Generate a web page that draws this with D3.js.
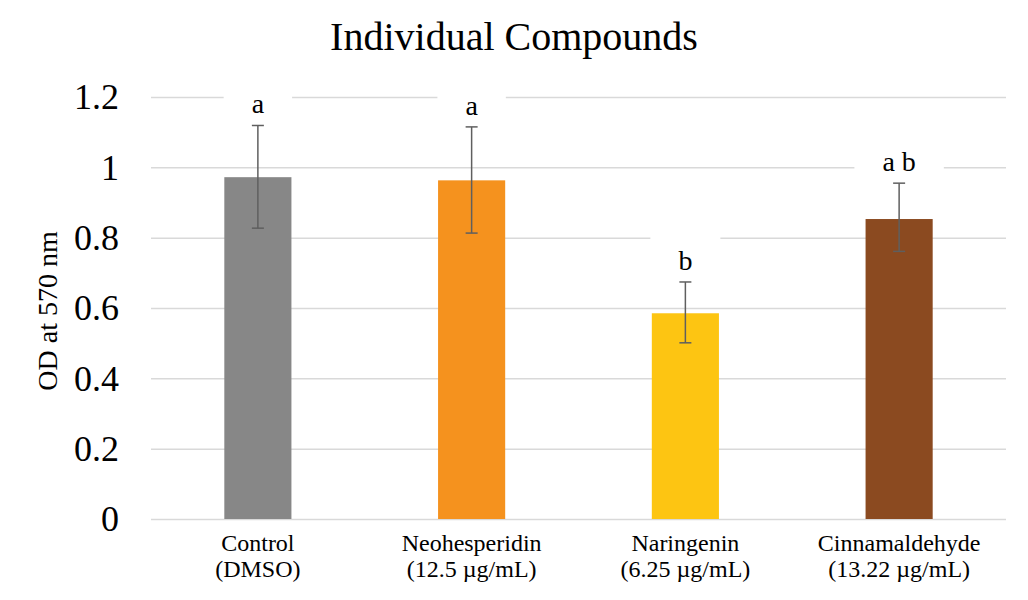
<html>
<head>
<meta charset="utf-8">
<style>
  body { margin: 0; background: #fff; }
  text { font-family: "Liberation Serif", "Times New Roman", serif; fill: #000; }
</style>
</head>
<body>
<svg width="1028" height="600" class="chart"></svg>
<script src="https://cdn.jsdelivr.net/npm/d3@7"></script>
<script>
    // data
    categories = ["Control", "Neohesperidin", "Naringenin", "Cinnamaldehyde"]
    doses = ["(DMSO)", "(12.5 \u00b5g/mL)", "(6.25 \u00b5g/mL)", "(13.22 \u00b5g/mL)"]
    means = [0.972, 0.963, 0.585, 0.853]
    errHigh = [1.119, 1.115, 0.674, 0.955]
    errLow = [0.827, 0.813, 0.501, 0.761]
    letters = ["a", "a", "b", "a b"]
    yTicks = [0, 0.2, 0.4, 0.6, 0.8, 1, 1.2]
    colors = ["#878787", "#F5921E", "#FDC512", "#8B4A20"]

    var svg = d3.select(".chart")
    // plot box (note: "top" is taken by window.top)
    var plotL = 151, plotR = 1006, plotT = 97, plotB = 519

    var x = d3.scaleBand().domain(categories).range([plotL, plotR])
        .paddingInner(0.686).paddingOuter(0.343)
    var y = d3.scaleLinear().domain([0, 1.2]).range([plotB, plotT])

    // title
    svg.append("text").attr("x", 514).attr("y", 50)
        .attr("text-anchor", "middle").style("font-size", "40px")
        .text("Individual Compounds")

    // gridlines
    var grid = svg.append("g").attr("transform", "translate(" + plotL + ",0)")
        .call(d3.axisLeft(y).tickValues(yTicks).tickSize(-(plotR - plotL)).tickFormat(""))
    grid.select(".domain").remove()
    grid.selectAll("line").attr("stroke", "#D9D9D9").attr("stroke-width", 1.5)

    // y tick labels
    var yAxis = svg.append("g").attr("transform", "translate(119,0)")
        .call(d3.axisLeft(y).tickValues(yTicks).tickSize(0).tickPadding(0).tickFormat(d3.format("")))
    yAxis.select(".domain").remove()
    yAxis.selectAll("text").style("font-size", "36px").attr("dy", "0.33em")
        .style("font-family", "Liberation Serif").attr("fill", "#000")

    // y title
    svg.append("text").attr("transform", "translate(57,311) rotate(-90)")
        .attr("text-anchor", "middle").style("font-size", "28px")
        .text("OD at 570 nm")

    var idx = d3.range(categories.length)
    var cx = function(i){ return x(categories[i]) + x.bandwidth() / 2 }

    // letters with white boxes that cut the gridlines
    var gap = 12, fs = 28
    var labelY = function(i){ return y(errHigh[i]) - gap }

    var boxes = svg.append("g")

    // bars
    svg.append("g").selectAll("rect").data(idx).enter().append("rect")
        .attr("x", function(i){ return x(categories[i]) })
        .attr("y", function(i){ return y(means[i]) })
        .attr("width", x.bandwidth())
        .attr("height", function(i){ return y(0) - y(means[i]) })
        .attr("fill", function(i){ return colors[i] })

    // error bars
    var eb = svg.append("g").attr("stroke", "#5F5F5F").attr("stroke-width", 1.5)
    idx.forEach(function(i){
        eb.append("line").attr("x1", cx(i)).attr("x2", cx(i))
            .attr("y1", y(errHigh[i])).attr("y2", y(errLow[i]))
        eb.append("line").attr("x1", cx(i) - 6).attr("x2", cx(i) + 6)
            .attr("y1", y(errHigh[i])).attr("y2", y(errHigh[i]))
        eb.append("line").attr("x1", cx(i) - 6).attr("x2", cx(i) + 6)
            .attr("y1", y(errLow[i])).attr("y2", y(errLow[i]))
    })

    var lt = svg.append("g").selectAll("text").data(idx).enter().append("text")
        .attr("x", cx)
        .attr("y", labelY)
        .attr("text-anchor", "middle").style("font-size", fs + "px")
        .text(function(i){ return letters[i] })
    lt.each(function(i){
        var w = this.getComputedTextLength()
        boxes.append("rect")
            .attr("x", cx(i) - w / 2 - 28)
            .attr("y", labelY(i) - 34)
            .attr("width", w + 56).attr("height", 44)
            .attr("fill", "#fff")
    })

    // x category labels, two lines each
    var xl = svg.append("g")
    xl.selectAll("text.name").data(idx).enter().append("text").attr("class", "name")
        .attr("text-anchor", "middle").style("font-size", "24px")
        .attr("x", cx).attr("y", 551)
        .text(function(i){ return categories[i] })
    xl.selectAll("text.dose").data(idx).enter().append("text").attr("class", "dose")
        .attr("text-anchor", "middle").style("font-size", "24px")
        .attr("x", cx).attr("y", 577)
        .text(function(i){ return doses[i] })
</script>
</body>
</html>
